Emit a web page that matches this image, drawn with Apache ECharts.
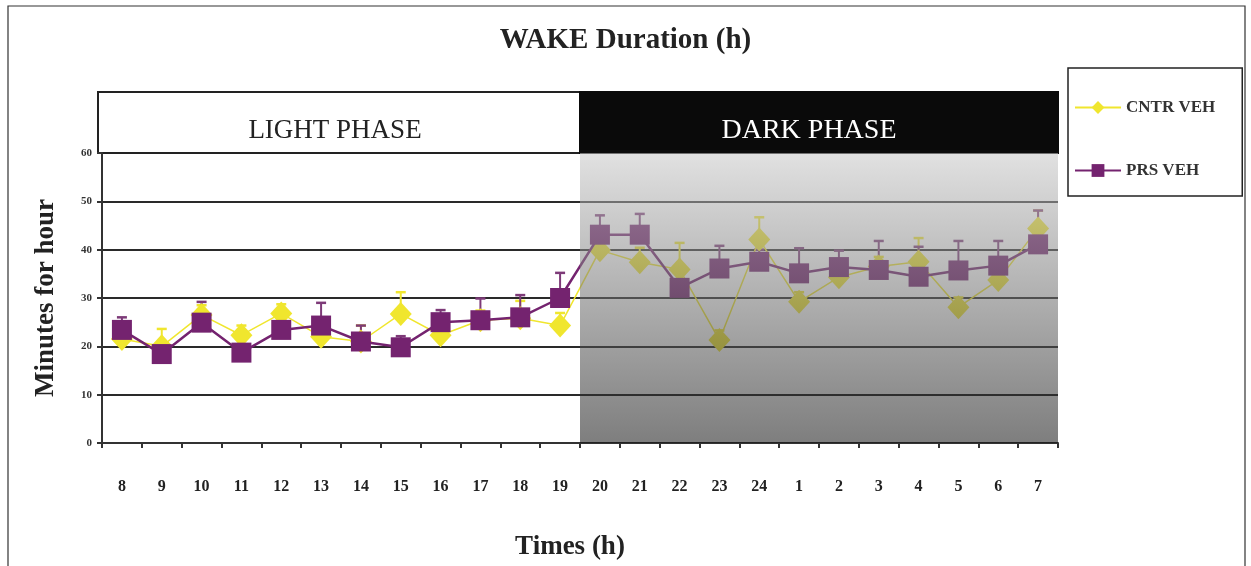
<!DOCTYPE html>
<html><head><meta charset="utf-8">
<script src="https://cdn.jsdelivr.net/npm/echarts@6/dist/echarts.min.js"></script>
<style>html,body{margin:0;padding:0;background:#fff}#c{width:1251px;height:566px}</style>
</head><body><div id="c"></div>
<script>
const hours = ['8','9','10','11','12','13','14','15','16','17','18','19','20','21','22','23','24','1','2','3','4','5','6','7'];
const cntrVeh = [21.5, 20, 26.5, 22.3, 26.8, 22, 21, 26.7, 22.3, 25.4, 25.8, 24.3, 39.9, 37.4, 35.9, 21.3, 42.1, 29.2, 34.3, 36.5, 37.5, 28.1, 33.7, 44.4];
const cntrErr = [1.5, 3.6, 2, 2, 1.9, 2, 3.3, 4.5, 2, 2, 3.6, 2.6, 3, 3, 5.5, 2, 4.6, 2, 2, 2, 4.9, 2, 3, 3.7];
const prsVeh  = [23.4, 18.4, 24.9, 18.7, 23.4, 24.3, 21, 19.8, 25, 25.4, 26, 30, 43.1, 43.1, 32.1, 36.1, 37.5, 35.1, 36.4, 35.8, 34.4, 35.7, 36.7, 41.1];
const prsErr  = [2.6, 1, 4.3, 1, 1.5, 4.7, 3.3, 2.3, 2.5, 4.5, 4.6, 5.2, 4, 4.3, 1, 4.7, 2.5, 5.2, 3.4, 6, 6.2, 6.1, 5.1, 7];
const darkStartIndex = 12;
const phaseLabels = ['LIGHT PHASE', 'DARK PHASE'];

const YELLOW = '#f0e62e';
const PURPLE = '#74236f';
const SERIF = '"Liberation Serif", "DejaVu Serif", serif';

function errRender(means, errs, color) {
  return function (params, api) {
    const i = api.value(0);
    const p0 = api.coord([i, means[i]]);
    const p1 = api.coord([i, means[i] + errs[i]]);
    const cw = 5;
    return {
      type: 'group',
      children: [
        { type: 'line', shape: { x1: p0[0], y1: p0[1], x2: p1[0], y2: p1[1] }, style: { stroke: color, lineWidth: 2 } },
        { type: 'line', shape: { x1: p1[0] - cw, y1: p1[1], x2: p1[0] + cw, y2: p1[1] }, style: { stroke: color, lineWidth: 2.5 } }
      ]
    };
  };
}

const chart = echarts.init(document.getElementById('c'), null, { renderer: 'canvas' });
const option = {
  animation: false,
  backgroundColor: '#fff',
  title: {
    text: 'WAKE Duration (h)', left: 'center', top: 21,
    textStyle: { fontFamily: SERIF, fontSize: 29, fontWeight: 'bold', color: '#222' }
  },
  legend: {
    orient: 'vertical', left: 1068, top: 68,
    padding: [31, 27, 17, 6],
    itemGap: 46, itemWidth: 46, itemHeight: 16,
    borderColor: '#222', borderWidth: 1.5,
    textStyle: { fontFamily: SERIF, fontSize: 17, fontWeight: 'bold', color: '#333' },
    data: ['CNTR VEH', 'PRS VEH']
  },
  grid: { left: 102, right: 193, top: 153, height: 290, outerBoundsMode: 'none', containLabel: false },
  xAxis: {
    type: 'category', data: hours, boundaryGap: true,
    axisLine: { lineStyle: { color: '#333', width: 2 } },
    axisTick: { show: true, length: 5, lineStyle: { color: '#333', width: 2 } },
    axisLabel: { margin: 36, fontFamily: SERIF, fontSize: 16, fontWeight: 'bold', color: '#222' },
    name: 'Times (h)', nameLocation: 'middle', nameGap: 91,
    nameTextStyle: { fontFamily: SERIF, fontSize: 27, fontWeight: 'bold', color: '#222', padding: [0, 20, 0, 0] }
  },
  yAxis: {
    type: 'value', min: 0, max: 60, interval: 10,
    axisLine: { show: true, lineStyle: { color: '#333', width: 2 } },
    axisTick: { show: true, length: 5, lineStyle: { color: '#333', width: 2 } },
    axisLabel: { margin: 10, fontFamily: SERIF, fontSize: 11, fontWeight: 'bold', color: '#333' },
    splitLine: { show: true, lineStyle: { color: '#2a2a2a', width: 2 } },
    name: 'Minutes for hour', nameLocation: 'middle', nameGap: 42,
    nameTextStyle: { fontFamily: SERIF, fontSize: 27, fontWeight: 'bold', color: '#222' }
  },
  series: [
    {
      name: 'CNTR VEH', type: 'line', data: cntrVeh, z: 3,
      symbol: 'diamond', symbolSize: [22, 24],
      lineStyle: { color: YELLOW, width: 1.5 },
      itemStyle: { color: YELLOW }
    },
    {
      name: 'PRS VEH', type: 'line', data: prsVeh, z: 4,
      symbol: 'rect', symbolSize: 20,
      lineStyle: { color: PURPLE, width: 2.5 },
      itemStyle: { color: PURPLE }
    },
    {
      type: 'custom', name: 'cntrErr', z: 2, silent: true,
      data: hours.map((h, i) => [i]),
      renderItem: errRender(cntrVeh, cntrErr, YELLOW)
    },
    {
      type: 'custom', name: 'prsErr', z: 2, silent: true,
      data: hours.map((h, i) => [i]),
      renderItem: errRender(prsVeh, prsErr, '#7d3a78')
    },
    {
      type: 'custom', name: 'darkOverlay', z: 10, silent: true,
      data: [[darkStartIndex]],
      renderItem: function (params, api) {
        const cs = params.coordSys;
        const bw = api.size([1, 0])[0];
        const x0 = api.coord([api.value(0), 0])[0] - bw / 2;
        return {
          type: 'rect',
          shape: { x: x0, y: cs.y, width: cs.x + cs.width - x0, height: cs.height },
          style: {
            fill: new echarts.graphic.LinearGradient(0, 0, 0, 1, [
              { offset: 0, color: 'rgba(200,200,200,0.55)' },
              { offset: 1, color: 'rgba(20,20,20,0.55)' }
            ])
          }
        };
      }
    }
  ]
};
chart.setOption(option);

// header band above the plot (phase labels)
const xL = chart.convertToPixel({ xAxisIndex: 0 }, 0);
const xD = chart.convertToPixel({ xAxisIndex: 0 }, darkStartIndex);
const xE = chart.convertToPixel({ xAxisIndex: 0 }, hours.length - 1);
const bw = chart.convertToPixel({ xAxisIndex: 0 }, 1) - xL;
const left = xL - bw / 2 - 4, mid = xD - bw / 2, right = xE + bw / 2;
const yTop = chart.convertToPixel({ yAxisIndex: 0 }, 60);
const hh = 61;
chart.setOption({
  graphic: [
    { type: 'rect', shape: { x: 8, y: 6, width: 1237, height: 580 }, style: { fill: 'none', stroke: '#333', lineWidth: 1.2 }, silent: true },
    { type: 'rect', shape: { x: left, y: yTop - hh, width: mid - left, height: hh }, style: { fill: '#fff', stroke: '#222', lineWidth: 2 } },
    { type: 'rect', shape: { x: mid, y: yTop - hh, width: right - mid, height: hh }, style: { fill: '#0a0a0a', stroke: '#0a0a0a', lineWidth: 2 } },
    { type: 'text', x: (left + mid) / 2 - 4, y: yTop - hh / 2 + 8, style: { text: phaseLabels[0], fill: '#222', font: '27px ' + SERIF, textAlign: 'center', textVerticalAlign: 'middle' } },
    { type: 'text', x: (mid + right) / 2 - 10, y: yTop - hh / 2 + 8, style: { text: phaseLabels[1], fill: '#fff', font: '28px ' + SERIF, textAlign: 'center', textVerticalAlign: 'middle' } }
  ]
});
</script></body></html>
